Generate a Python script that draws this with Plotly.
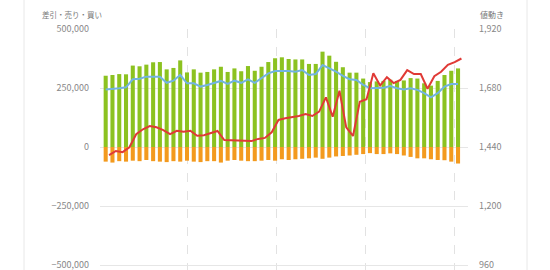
import pandas as pd
import plotly.graph_objects as go

# weekly data
week_start = "2016-01-07"
price_start = "2016-01-10 12:00"

buy = [302, 305, 309, 308, 345, 342, 349, 359, 360, 329, 335, 367, 316, 329, 315, 318, 329, 340,
       318, 333, 321, 343, 323, 340, 360, 376, 380, 373, 371, 371, 352, 352, 404, 387, 361, 338,
       315, 315, 290, 275, 278, 280, 285, 280, 282, 292, 290, 270, 260, 280, 305, 323, 333]
sell = [-62, -66, -60, -62, -58, -60, -55, -60, -62, -64, -60, -62, -58, -62, -64, -60, -60, -66,
        -58, -55, -58, -60, -60, -58, -55, -58, -52, -55, -52, -50, -48, -45, -50, -45, -40, -38,
        -36, -33, -30, -26, -30, -30, -27, -30, -36, -42, -48, -48, -52, -55, -56, -62, -70]
net = [244, 245, 249, 253, 287, 289, 298, 298, 298, 272, 281, 305, 270, 270, 256, 263, 272, 280,
       267, 281, 272, 287, 272, 291, 312, 322, 323, 322, 319, 326, 305, 309, 347, 333, 319, 301,
       287, 284, 263, 249, 249, 251, 258, 249, 244, 249, 242, 228, 210, 228, 256, 267, 267]
price = [1407, 1424, 1419, 1439, 1492, 1512, 1525, 1520, 1509, 1492, 1506, 1502, 1506, 1486, 1488,
         1496, 1505, 1468, 1467, 1468, 1467, 1464, 1473, 1477, 1500, 1550, 1557, 1561, 1566, 1574,
         1566, 1584, 1642, 1563, 1669, 1520, 1485, 1624, 1634, 1740, 1690, 1724, 1700, 1713, 1753,
         1737, 1737, 1677, 1728, 1746, 1774, 1785, 1800]

left_ticks = [-500000, -250000, 0, 250000, 500000]
right_ticks = [960, 1200, 1440, 1680, 1920]

n = len(buy)
dates = pd.date_range(week_start, periods=n, freq="7D")
pdates = pd.date_range(price_start, periods=n, freq="7D")

GREEN = "#8cc220"
ORANGE = "#f39a1e"
BLUE = "#72b4e2"
RED = "#e03a36"
GRID = "#e6e6e6"
TICKC = "#888888"
FONT = "Noto Sans CJK JP"

fig = go.Figure()
fig.add_trace(go.Bar(x=dates, y=[v * 1000 for v in buy], marker=dict(color=GREEN, line_width=0), name="買い"))
fig.add_trace(go.Bar(x=dates, y=[v * 1000 for v in sell], marker=dict(color=ORANGE, line_width=0), name="売り"))
fig.add_trace(go.Scatter(x=dates, y=[v * 1000 for v in net], mode="lines",
                         line=dict(color=BLUE, width=2), name="差引"))
fig.add_trace(go.Scatter(x=pdates, y=price, mode="lines", yaxis="y2",
                         line=dict(color=RED, width=2), name="値動き"))

fig.update_layout(
    width=550, height=270,
    margin=dict(l=100, r=82, t=29, b=0),
    paper_bgcolor="white", plot_bgcolor="white",
    barmode="relative", bargap=0.4,
    showlegend=False,
    font=dict(family=FONT, color=TICKC, size=9),
    xaxis=dict(
        type="date",
        range=["2016-01-01 03:00", "2017-01-15 07:00"],
        tick0="2016-01-01", dtick="M3",
        showgrid=True, gridcolor="#e2e2e2", griddash="dash", gridwidth=1,
        showticklabels=False, zeroline=False, showline=False, ticks="",
    ),
    yaxis=dict(
        range=[-521186, 500000],
        tickvals=left_ticks, tickformat=",d",
        showgrid=True, gridcolor=GRID, gridwidth=1,
        zeroline=False, showline=False, ticks="",
        ticklabelstandoff=10, ticklabeloverflow="allow",
        tickfont=dict(family=FONT, size=9, color=TICKC),
    ),
    yaxis2=dict(
        range=[939.7, 1920], overlaying="y", side="right",
        tickvals=right_ticks, tickformat=",d",
        showgrid=False, zeroline=False, showline=False, ticks="",
        ticklabelstandoff=10, ticklabeloverflow="allow",
        tickfont=dict(family=FONT, size=9, color=TICKC),
    ),
    annotations=[
        dict(text="差引・売り・買い", x=(40 - 100) / 368, y=(270 - 15) / 241, xref="paper", yref="paper",
             xanchor="left", yanchor="middle", showarrow=False,
             font=dict(family=FONT, size=7.5, color="#777777")),
        dict(text="値動き", x=(478 - 100) / 368, y=(270 - 15) / 241, xref="paper", yref="paper",
             xanchor="left", yanchor="middle", showarrow=False,
             font=dict(family=FONT, size=8, color="#777777")),
    ],
    shapes=[
        dict(type="line", xref="paper", yref="paper", x0=(24 - 100) / 368, x1=(24 - 100) / 368,
             y0=0, y1=1.13, line=dict(color="#e8e8e8", width=1)),
        dict(type="line", xref="paper", yref="paper", x0=(527 - 100) / 368, x1=(527 - 100) / 368,
             y0=0, y1=1.13, line=dict(color="#e8e8e8", width=1)),
    ],
)

fig.write_html("out.html")
